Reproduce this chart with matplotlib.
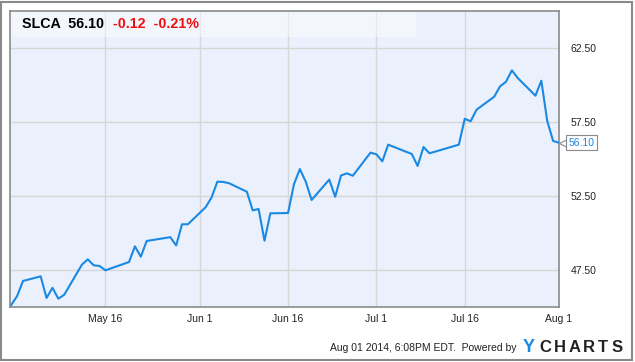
import matplotlib
matplotlib.use('Agg')
import matplotlib.pyplot as plt
from matplotlib.patches import Rectangle
from matplotlib.transforms import offset_copy
import pandas as pd

dates = ['2014-04-30', '2014-05-01', '2014-05-02', '2014-05-05', '2014-05-06', '2014-05-07',
         '2014-05-08', '2014-05-09', '2014-05-12', '2014-05-13', '2014-05-14', '2014-05-15',
         '2014-05-16', '2014-05-20', '2014-05-21', '2014-05-22', '2014-05-23', '2014-05-27',
         '2014-05-28', '2014-05-29', '2014-05-30', '2014-06-02', '2014-06-03', '2014-06-04',
         '2014-06-05', '2014-06-06', '2014-06-09', '2014-06-10', '2014-06-11', '2014-06-12',
         '2014-06-13', '2014-06-16', '2014-06-17', '2014-06-18', '2014-06-19', '2014-06-20',
         '2014-06-23', '2014-06-24', '2014-06-25', '2014-06-26', '2014-06-27', '2014-06-30',
         '2014-07-01', '2014-07-02', '2014-07-03', '2014-07-07', '2014-07-08', '2014-07-09',
         '2014-07-10', '2014-07-11', '2014-07-15', '2014-07-16', '2014-07-17', '2014-07-18',
         '2014-07-21', '2014-07-22', '2014-07-23', '2014-07-24', '2014-07-25', '2014-07-28',
         '2014-07-29', '2014-07-30', '2014-07-31', '2014-08-01']
prices = [45.14, 45.74, 46.76, 47.07, 45.61, 46.30,
          45.56, 45.83, 47.86, 48.22, 47.82, 47.77,
          47.48, 48.04, 49.10, 48.40, 49.46, 49.72,
          49.16, 50.59, 50.59, 51.74, 52.39, 53.47,
          53.45, 53.36, 52.79, 51.53, 51.62, 49.48,
          51.33, 51.35, 53.29, 54.32, 53.47, 52.23,
          53.61, 52.45, 53.89, 54.03, 53.87, 55.43,
          55.32, 54.84, 55.97, 55.34, 54.53, 55.81,
          55.39, 55.50, 55.97, 57.72, 57.55, 58.33,
          59.21, 59.91, 60.22, 60.99, 60.47, 59.28,
          60.29, 57.57, 56.22, 56.10]

xtick_dates = ['2014-05-16', '2014-06-01', '2014-06-16', '2014-07-01', '2014-07-16', '2014-08-01']
xtick_labels = ['May 16', 'Jun 1', 'Jun 16', 'Jul 1', 'Jul 16', 'Aug 1']
ytick_values = [47.5, 52.5, 57.5, 62.5]

ticker = 'SLCA'
last_price = '56.10'
change = '-0.12'
change_pct = '-0.21%'
footer = 'Aug 01 2014, 6:08PM EDT.  Powered by'

plt.rcParams['font.family'] = ['Liberation Sans', 'DejaVu Sans']

W, H = 635, 362
fig = plt.figure(figsize=(W / 100, H / 100), dpi=100)
fig.patch.set_facecolor('white')

# outer frame
fig.add_artist(Rectangle((1 / W, 2 / H), 631 / W, 358 / H, transform=fig.transFigure,
                         fill=False, edgecolor='#8a8a8a', linewidth=1.5))

ax = fig.add_axes([10 / W, (H - 307) / H, 549 / W, 296 / H])
ax.set_facecolor('#eaf1fc')

x = pd.to_datetime(dates)
ax.plot(x, prices, color='#1a89e3', linewidth=1.5, zorder=3)

ax.set_xticks(pd.to_datetime(xtick_dates))
ax.set_xticklabels(xtick_labels)
ax.set_yticks(ytick_values)
ax.set_yticklabels(['%.2f' % v for v in ytick_values])
ax.set_xlim(pd.Timestamp('2014-04-29 19:00'), pd.Timestamp('2014-08-01'))
ax.set_ylim(45, 65)

ax.yaxis.tick_right()
ax.tick_params(axis='both', length=0, labelsize=7.5, labelcolor='#222222')
ax.tick_params(axis='y', pad=8.5)
ax.tick_params(axis='x', pad=5)
ax.grid(True, color='#d6d6d6', linewidth=1)
ax.set_axisbelow(True)
for s in ax.spines.values():
    s.set_color('#8a8a8a')
    s.set_linewidth(1.2)

# header box
ax.add_patch(Rectangle((0, 1 - 26 / 296), 406 / 549, 26 / 296, transform=ax.transAxes,
                       facecolor='white', alpha=0.45, edgecolor='none', zorder=2))
ax.text(12 / 549, 1 - 13 / 296, ticker + '  ' + last_price, transform=ax.transAxes,
        fontsize=10.3, fontweight='bold', color='black', va='center', ha='left', zorder=4)
ax.text(103 / 549, 1 - 13 / 296, change + '  ' + change_pct, transform=ax.transAxes,
        fontsize=10.3, fontweight='bold', color='#ee1111', va='center', ha='left', zorder=4)

# last value label
trans = offset_copy(ax.transData, fig=fig, x=4, y=0, units='dots')
ax.plot(x[-1], prices[-1], marker='<', ms=6, mfc='white', mec='#8a8a8a', mew=0.8,
        transform=trans, clip_on=False, zorder=5)
ax.annotate(last_price, xy=(x[-1], prices[-1]), xytext=(7, 0), textcoords='offset points',
            fontsize=7.5, color='#1a89e3', va='center', ha='left', annotation_clip=False,
            bbox=dict(boxstyle='square,pad=0.25', fc='white', ec='#8a8a8a', lw=0.8), zorder=6)

# footer
fig.text(517 / W, 1 - 351 / H, footer, fontsize=7.5, color='#222222', ha='right', va='baseline')
fig.text(523 / W, 1 - 352 / H, 'Y', fontsize=13, fontweight='bold', color='#1a89e3',
         ha='left', va='baseline')
for i, ch in enumerate('CHARTS'):
    fig.text((539 + i * 14.6) / W, 1 - 352 / H, ch, fontsize=12, fontweight='bold',
             color='#222222', ha='left', va='baseline')

fig.savefig('out.png', dpi=100)
